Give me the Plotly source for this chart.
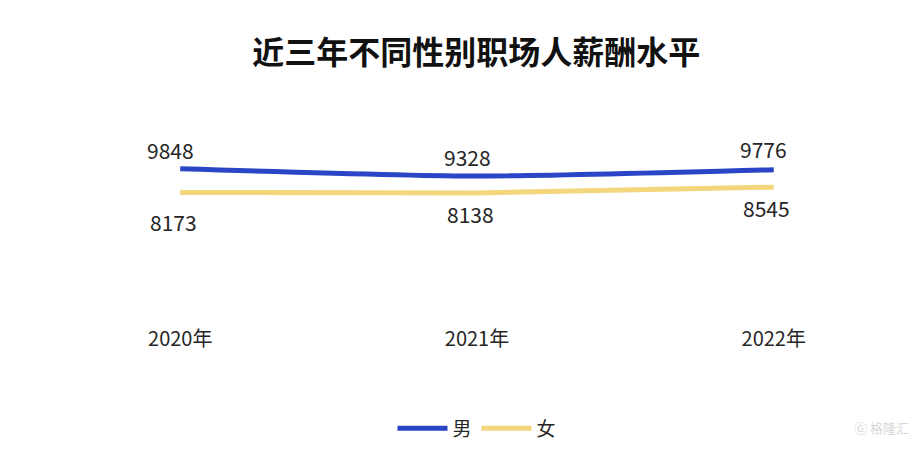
import plotly.graph_objects as go

years = ["2020年", "2021年", "2022年"]
male = [9848, 9328, 9776]
female = [8173, 8138, 8545]
series_names = ["男", "女"]
title_text = "近三年不同性别职场人薪酬水平"

BLUE = "#2A45C6"
YELLOW = "#F4D67C"
TXT = "#262626"
FONT = "Noto Sans CJK SC"

fig = go.Figure()
fig.add_trace(go.Scatter(x=years, y=male, mode="lines", name=series_names[0],
                         line=dict(color=BLUE, width=5, shape="spline", smoothing=0.6),
                         cliponaxis=False))
fig.add_trace(go.Scatter(x=years, y=female, mode="lines", name=series_names[1],
                         line=dict(color=YELLOW, width=5, shape="spline", smoothing=0.6),
                         cliponaxis=False))

male_shift = [19, 19, 21]
female_shift = [-30, -21, -21]
for i, (yr, v) in enumerate(zip(years, male)):
    fig.add_annotation(x=yr, y=v, text=str(v), showarrow=False, xshift=-10,
                       yshift=male_shift[i], font=dict(size=21, color=TXT, family=FONT))
for i, (yr, v) in enumerate(zip(years, female)):
    fig.add_annotation(x=yr, y=v, text=str(v), showarrow=False, xshift=-7,
                       yshift=female_shift[i], font=dict(size=21, color=TXT, family=FONT))

fig.add_annotation(xref="paper", yref="paper", x=1.09, y=-0.66, text="Ⓖ 格隆汇",
                   showarrow=False, xanchor="right",
                   font=dict(size=13, color="#D8D8D8", family=FONT))

fig.update_layout(
    width=922, height=452,
    paper_bgcolor="white", plot_bgcolor="white",
    margin=dict(l=101, r=85, t=102, b=149),
    title=dict(text="<b>" + title_text + "</b>", x=0.508, xanchor="center",
               y=0.9, yanchor="middle",
               font=dict(size=32, color="#111111", family=FONT)),
    font=dict(family=FONT, color=TXT),
    showlegend=True,
    legend=dict(orientation="h", x=0.5, xanchor="center", y=-0.608, yanchor="middle",
                font=dict(size=19, color=TXT, family=FONT), itemwidth=50,
                tracegroupgap=0),
    xaxis=dict(type="category", range=[-0.24, 2.24], showgrid=False, zeroline=False,
               showline=False, ticks="", ticklabelstandoff=17,
               tickfont=dict(size=20, color=TXT, family=FONT)),
    yaxis=dict(range=[0, 14000], visible=False, showgrid=False, zeroline=False),
)

fig.write_html("out.html")
